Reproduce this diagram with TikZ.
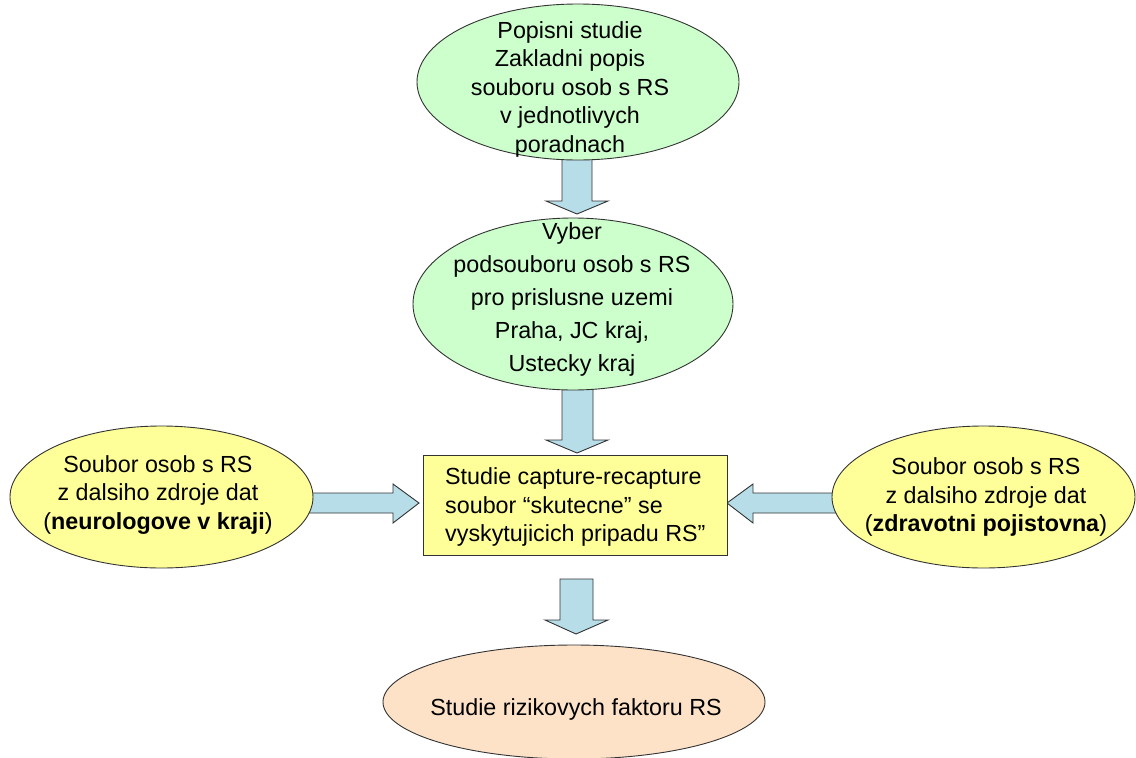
\documentclass[tikz,border=0pt]{standalone}
\usepackage{fontspec}
\setmainfont{Liberation Sans}
\usetikzlibrary{shapes.geometric}
\definecolor{egreen}{HTML}{CCFFCC}
\definecolor{eyellow}{HTML}{FFFF99}
\definecolor{epeach}{HTML}{FDE2C8}
\definecolor{ablue}{HTML}{B7DEE8}
\definecolor{edge}{HTML}{333333}
\tikzset{
  oval/.style={ellipse, draw=edge, line width=0.9pt, inner sep=0pt},
  txt/.style={align=center, inner sep=0pt, font=\fontsize{23.3}{28.5}\selectfont},
  blockarrow/.style={fill=ablue, draw=edge, line width=0.9pt, line join=miter},
  boxstyle/.style={draw=edge, line width=0.9pt, fill=eyellow}
}
\begin{document}
\begin{tikzpicture}[x=1pt,y=-1pt]
\useasboundingbox (0,0) rectangle (1136,758);
\fill[white] (0,0) rectangle (1136,758);
% block arrows (drawn first, behind the shapes)
\draw[blockarrow] (562,150) -- (592,150) -- (592,201) -- (608,201) -- (577,214) -- (546,201) -- (562,201) -- cycle;
\draw[blockarrow] (562,385) -- (593,385) -- (593,440) -- (608,440) -- (577,453) -- (546,440) -- (562,440) -- cycle;
\draw[blockarrow] (560,579) -- (593,579) -- (593,620) -- (608,620) -- (576,634) -- (545,620) -- (560,620) -- cycle;
\draw[blockarrow] (305,493) -- (393,493) -- (393,484) -- (419,503) -- (393,523) -- (393,513) -- (305,513) -- cycle;
\draw[blockarrow] (840,493) -- (753,493) -- (753,484) -- (727,503) -- (753,523) -- (753,513) -- (840,513) -- cycle;
% shapes
\node[oval, fill=egreen, minimum width=322pt, minimum height=156pt] (e1) at (578,82) {};
\node[txt] (t1) at (570,89) {Popisni studie\\Zakladni popis\\souboru osob s RS\\v jednotlivych\\poradnach};
\node[oval, fill=egreen, minimum width=320pt, minimum height=172pt] (e2) at (573,304) {};
\node[txt, font=\fontsize{23.3}{33}\selectfont] (t2) at (572,299) {Vyber\\podsouboru osob s RS\\pro prislusne uzemi\\Praha, JC kraj,\\Ustecky kraj};
\node[boxstyle, minimum width=304pt, minimum height=100pt] (box) at (575,505) {};
\node[txt, align=left, anchor=west] (tb) at (445,507) {Studie capture-recapture\\soubor “skutecne” se\\vyskytujicich pripadu RS”};
\node[oval, fill=eyellow, minimum width=303pt, minimum height=142pt] (el) at (161.5,497) {};
\node[txt] (tl) at (158,495) {Soubor osob s RS\\z dalsiho zdroje dat\\(\textbf{neurologove v kraji})};
\node[oval, fill=eyellow, minimum width=303pt, minimum height=142pt] (er) at (983.5,497) {};
\node[txt] (tr) at (986,497) {Soubor osob s RS\\z dalsiho zdroje dat\\(\textbf{zdravotni pojistovna})};
\node[oval, fill=epeach, minimum width=382pt, minimum height=114pt] (eb) at (574,702) {};
\node[txt] (tbt) at (576,709) {Studie rizikovych faktoru RS};
\end{tikzpicture}
\end{document}
